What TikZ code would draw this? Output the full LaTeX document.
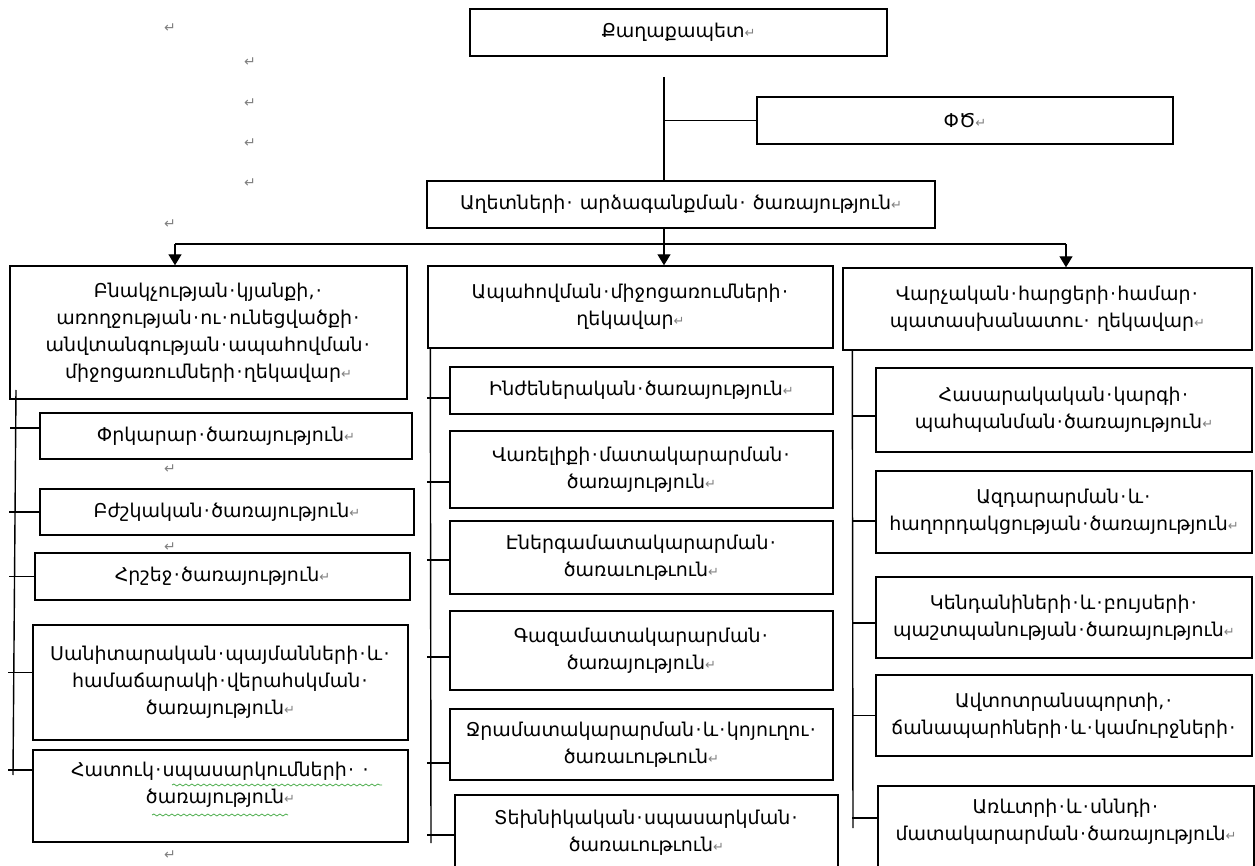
\documentclass[tikz,border=0pt]{standalone}
\usepackage{fontspec}
\setmainfont{DejaVu Sans}
\usetikzlibrary{arrows.meta,decorations.pathmorphing}
\definecolor{markgray}{RGB}{128,128,128}
\definecolor{spellgreen}{RGB}{70,170,70}
\newcommand{\retmark}{{\fontsize{6.5pt}{6.5pt}\selectfont\color{markgray}↵}}
\newcommand{\wdot}{\makebox[0.45em]{·}}
\tikzset{
  unit/.style = {rectangle, draw, line width=0.7pt, fill=white, align=center,
                 inner sep=0pt, font=\fontsize{9.5pt}{13.5pt}\selectfont},
  retnode/.style = {inner sep=0pt, font=\fontsize{7pt}{7pt}\selectfont, text=markgray},
  link/.style = {line width=0.7pt},
  drop/.style = {line width=0.7pt, -{Triangle[width=6.5pt, length=5.5pt]}},
  squiggle/.style = {spellgreen, line width=0.4pt, decorate,
                     decoration={snake, segment length=3pt, amplitude=0.5pt}}
}

\begin{document}
\begin{tikzpicture}[x=0.5pt, y=-0.5pt]
  \useasboundingbox (0,0) rectangle (1255,866);

  \node [retnode] (pm1) at (170,28) {↵};
  \node [retnode] (pm2) at (250,62) {↵};
  \node [retnode] (pm3) at (250,103) {↵};
  \node [retnode] (pm4) at (250,143) {↵};
  \node [retnode] (pm5) at (250,183) {↵};
  \node [retnode] (pm6) at (170,224) {↵};
  \node [retnode] (pm7) at (170,469) {↵};
  \node [retnode] (pm8) at (170,547) {↵};
  \node [retnode] (pm9) at (174,754) {↵};
  \node [retnode] (pm10) at (170,855) {↵};

  \node [unit, minimum width=208.5pt, minimum height=23.5pt] (mayor) at (678.5,32.5) {Քաղաքապետ\retmark};
  \node [unit, minimum width=208pt, minimum height=23.5pt] (fd) at (965,120.5) {ՓԾ\retmark};
  \node [unit, minimum width=254pt, minimum height=23.5pt] (resp) at (681,204.5)
        {Աղետների\wdot\ արձագանքման\wdot\ ծառայություն\retmark};

  \node [unit, minimum width=198.5pt, minimum height=66.5pt] (head1) at (208.5,332.5)
        {Բնակչության\wdot կյանքի,\wdot\\ առողջության\wdot ու\wdot ունեցվածքի\wdot\\
         անվտանգության\wdot ապահովման\wdot\\ միջոցառումների\wdot ղեկավար\retmark};
  \node [unit, minimum width=202.5pt, minimum height=41pt] (head2) at (630.5,307)
        {Ապահովման\wdot միջոցառումների\wdot\\ ղեկավար\retmark};
  \node [unit, minimum width=204.5pt, minimum height=41pt] (head3) at (1047.5,309)
        {Վարչական\wdot հարցերի\wdot համար\wdot\\ պատասխանատու\wdot\ ղեկավար\retmark};

  \node [unit, minimum width=186pt, minimum height=23pt] (rescue) at (226,436) {Փրկարար\wdot ծառայություն\retmark};
  \node [unit, minimum width=187pt, minimum height=23pt] (medic) at (227,512) {Բժշկական\wdot ծառայություն\retmark};
  \node [unit, minimum width=187.5pt, minimum height=23.5pt] (fire) at (222.5,576.5) {Հրշեջ\wdot ծառայություն\retmark};
  \node [unit, minimum width=187.5pt, minimum height=57.5pt] (sanit) at (220.5,682.5)
        {Սանիտարական\wdot պայմանների\wdot և\wdot\\ համաճարակի\wdot վերահսկման\wdot\\ ծառայություն\retmark};
  \node [unit, minimum width=187.5pt, minimum height=46pt] (special) at (220.5,796)
        {Հատուկ\wdot սպասարկումների\wdot\ \wdot\\ ծառայություն\retmark\\ \mbox{}};

  \node [unit, minimum width=191.5pt, minimum height=23.5pt] (engin) at (641.5,390.5) {Ինժեներական\wdot ծառայություն\retmark};
  \node [unit, minimum width=191.5pt, minimum height=38.5pt] (fuel) at (641.5,469.5)
        {Վառելիքի\wdot մատակարարման\wdot\\ ծառայություն\retmark};
  \node [unit, minimum width=191.5pt, minimum height=36.5pt] (power) at (641.5,557.5)
        {Էներգամատակարարման\wdot\\ ծառաւութւուն\retmark};
  \node [unit, minimum width=191.5pt, minimum height=39.5pt] (gas) at (641.5,650.5)
        {Գազամատակարարման\wdot\\ ծառայություն\retmark};
  \node [unit, minimum width=191.5pt, minimum height=35.5pt] (water) at (641.5,744.5)
        {Ջրամատակարարման\wdot և\wdot կոյուղու\wdot\\ ծառաւութւուն\retmark};
  \node [unit, minimum width=191.5pt, minimum height=37.5pt] (tech) at (646.5,832.5)
        {Տեխնիկական\wdot սպասարկման\wdot\\ ծառաւութւուն\retmark};

  \node [unit, minimum width=188pt, minimum height=42pt] (order) at (1064,410)
        {Հասարակական\wdot կարգի\wdot\\ պահպանման\wdot ծառայություն\retmark};
  \node [unit, minimum width=188pt, minimum height=41pt] (alert) at (1064,512)
        {Ազդարարման\wdot և\wdot\\ հաղորդակցության\wdot ծառայություն\retmark};
  \node [unit, minimum width=188pt, minimum height=40.5pt] (fauna) at (1064,617.5)
        {Կենդանիների\wdot և\wdot բույսերի\wdot\\ պաշտպանության\wdot ծառայություն\retmark};
  \node [unit, minimum width=188pt, minimum height=40.5pt] (roads) at (1064,715.5)
        {Ավտոտրանսպորտի,\wdot\\ ճանապարհների\wdot և\wdot կամուրջների\wdot};
  \node [unit, minimum width=188pt, minimum height=47pt] (trade) at (1066,833)
        {Առևտրի\wdot և\wdot սննդի\wdot\\ մատակարարման\wdot ծառայություն\retmark\\ \mbox{}};

  \coordinate (stem) at (664,77);
  \coordinate (busL) at (175,244);
  \coordinate (busR) at (1066,244);
  \draw [link] (stem) -- (stem |- resp.north);
  \draw [link] (stem |- fd.west) -- (fd.west);
  \draw [link] (busL) -- (busR);
  \draw [drop] (stem |- resp.south) -- (stem |- head2.north);
  \draw [drop] (busL) -- (busL |- head1.north);
  \draw [drop] (busR) -- (busR |- head3.north);

  \coordinate (t1a) at (16,390);
  \coordinate (t1b) at (13,775);
  \draw [link] (t1a) -- (t1b);
  \draw [link] ([yshift=4pt]rescue.west) -- ++(-29,0);
  \draw [link] (medic.west) -- ++(-30,0);
  \draw [link] (fire.west) -- ++(-25,0);
  \draw [link] ([yshift=5pt]sanit.west) -- ++(-24,0);
  \draw [link] ([yshift=13pt]special.west) -- ++(-24,0);

  \draw [link] ([xshift=1.5pt]head2.south west) -- (431,843);
  \draw [link] ([yshift=-3.75pt]engin.west) -- ++(-22,0);
  \draw [link] ([yshift=-6.25pt]fuel.west) -- ++(-22,0);
  \draw [link] ([yshift=-1.25pt]power.west) -- ++(-22,0);
  \draw [link] ([yshift=-3.25pt]gas.west) -- ++(-22,0);
  \draw [link] ([yshift=-9.25pt]water.west) -- ++(-22,0);
  \draw [link] ([yshift=-1.25pt]tech.west) -- ++(-27,0);

  \draw [link] ([xshift=5pt]head3.south west) -- (853,828);
  \draw [link] ([yshift=-3pt]order.west) -- ++(-23,0);
  \draw [link] ([yshift=-4.5pt]alert.west) -- ++(-23,0);
  \draw [link] ([yshift=-2.75pt]fauna.west) -- ++(-23,0);
  \draw [link] (roads.west) -- ++(-23,0);
  \draw [link] ([yshift=7.5pt]trade.west) -- ++(-25,0);

  \draw [squiggle] (172,785) -- (382,785);
  \draw [squiggle] (152,815) -- (288,815);
\end{tikzpicture}
\end{document}
